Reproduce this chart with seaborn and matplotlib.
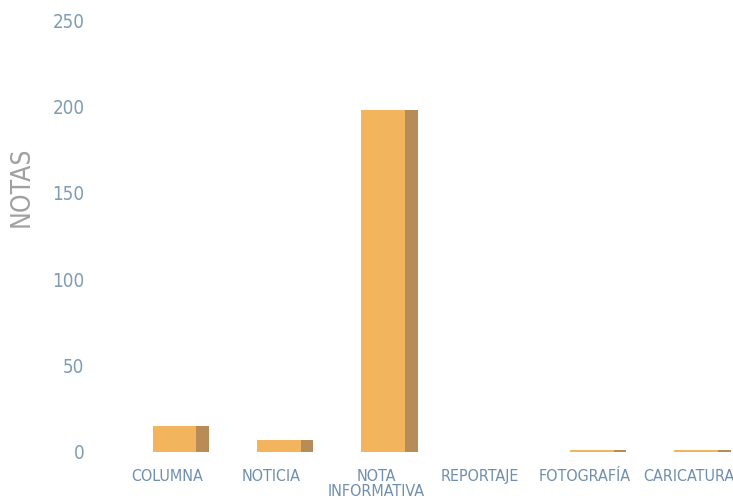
import numpy as np
import pandas as pd
import matplotlib
matplotlib.use("Agg")
import matplotlib.pyplot as plt
import seaborn as sns

### Data
categorias = ["COLUMNA", "NOTICIA", "NOTA\nINFORMATIVA", "REPORTAJE", "FOTOGRAFÍA", "CARICATURA"]
notas = [15, 7, 198, 0, 1, 1]
y_ticks = [0, 50, 100, 150, 200, 250]

sns.set_theme(style="white")
plt.rcParams["font.family"] = ["DejaVu Sans"]
plt.rcParams["font.stretch"] = "condensed"

df = pd.DataFrame({"categoria": categorias, "notas": notas})

fig = plt.figure(figsize=(7.33, 5.01), dpi=100)
ax = fig.add_axes([0.157, 0.098, 0.854, 0.862])

# front face of the bars
sns.barplot(data=df, x="categoria", y="notas", color="#F3B45E", width=0.42,
            saturation=1, linewidth=0, ax=ax)

# darker side face, to fake the 3D look of the original
idx = np.arange(len(categorias))
ax.bar(idx + 0.27, df["notas"], width=0.12, color="#B88C57", linewidth=0)

ax.set_xlim(-0.57, 5.43)
ax.set_ylim(0, 250)
ax.set_yticks(y_ticks)
ax.set_xticks(idx - 0.07)
ax.set_xticklabels(categorias, fontsize=11.5, color="#6E8FAE", linespacing=1.05)
ax.tick_params(axis="y", labelsize=13.5, labelcolor="#7F9BB6", pad=16)
ax.tick_params(axis="x", pad=6)
ax.set_xlabel("")
ax.set_ylabel("NOTAS", fontsize=19, color="#A0A0A0")
ax.yaxis.set_label_coords(-0.128, 0.613)
sns.despine(left=True, bottom=True)

fig.savefig("out.png", dpi=100)
